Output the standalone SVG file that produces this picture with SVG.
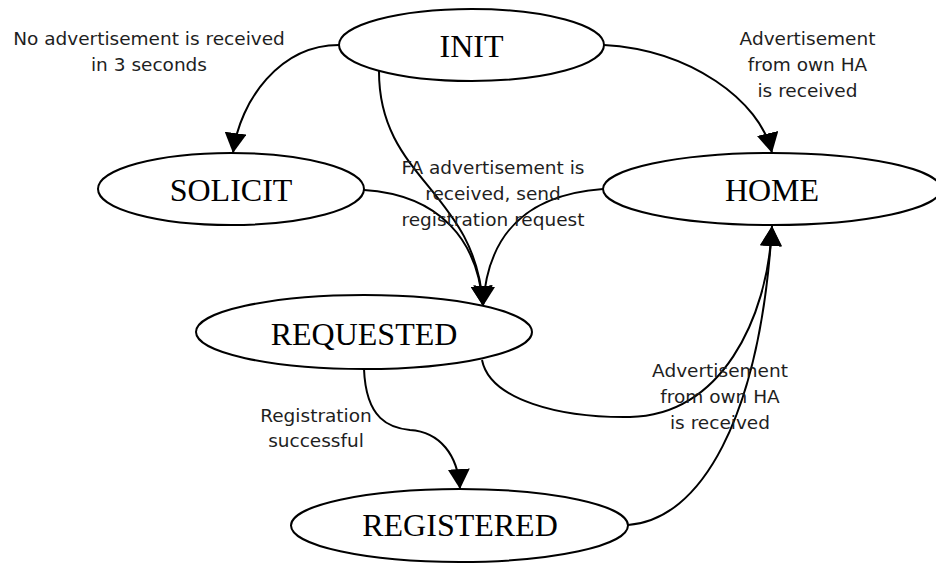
<svg xmlns="http://www.w3.org/2000/svg" width="936" height="563" viewBox="0 0 936 563">
  <style>
    .state { fill: #ffffff; stroke: #000000; stroke-width: 2; }
    .state-label { font-family: "Liberation Serif", "Times New Roman", serif; font-size: 32px; fill: #000000; text-anchor: middle; }
    .edge { fill: none; stroke: #000000; stroke-width: 2; marker-end: url(#arrow); }
    .note { font-family: "DejaVu Sans", Verdana, sans-serif; font-size: 18.5px; fill: #1e1e1e; text-anchor: middle; }
  </style>
  <defs>
    <marker id="arrow" markerUnits="userSpaceOnUse" viewBox="0 0 20 22" refX="20" refY="11" markerWidth="20" markerHeight="22" orient="auto">
      <path d="M0,0 L20,11 L0,22 z" fill="#000000"/>
    </marker>
  </defs>

  <!-- transitions -->
  <g id="connectors">
    <path id="init-solicit" class="edge" d="M339,45 C 280,45 240,100 233,153"/>
    <path id="init-home" class="edge" d="M604,45 C 690,50 760,100 772,153"/>
    <path id="init-requested" class="edge" d="M379,70 C 378,180 476,190 483,306"/>
    <path id="solicit-requested" class="edge" d="M364,190 C 440,195 478,240 483,306"/>
    <path id="home-requested" class="edge" d="M603,189 C 520,195 487,240 483,306"/>
    <path id="requested-home" class="edge" d="M482,360 C 490,400 560,418 630,417 C 720,416 768,320 772,226"/>
    <path id="requested-registered" class="edge" d="M364,369 C 366,420 390,428 410,430 C 440,432 458,455 460,489"/>
    <path id="registered-home" class="edge" d="M628,525 C 700,520 760,420 772,226"/>
  </g>

  <!-- states -->
  <g id="INIT">
    <ellipse class="state" cx="471.5" cy="45" rx="132.5" ry="36"/>
    <text class="state-label" x="471.5" y="56.5">INIT</text>
  </g>
  <g id="SOLICIT">
    <ellipse class="state" cx="231" cy="189" rx="133" ry="36"/>
    <text class="state-label" x="231" y="200.5">SOLICIT</text>
  </g>
  <g id="HOME">
    <ellipse class="state" cx="772" cy="189" rx="169" ry="36"/>
    <text class="state-label" x="772" y="201">HOME</text>
  </g>
  <g id="REQUESTED">
    <ellipse class="state" cx="364" cy="332" rx="168" ry="37"/>
    <text class="state-label" x="364" y="344.5">REQUESTED</text>
  </g>
  <g id="REGISTERED">
    <ellipse class="state" cx="459.5" cy="525.5" rx="168.5" ry="36.5"/>
    <text class="state-label" x="460" y="536">REGISTERED</text>
  </g>

  <!-- transition conditions -->
  <g id="labels">
    <text class="note" x="149" y="45">No advertisement is received</text>
    <text class="note" x="149" y="71">in 3 seconds</text>

    <text class="note" x="807.5" y="45">Advertisement</text>
    <text class="note" x="807.5" y="71">from own HA</text>
    <text class="note" x="807.5" y="97">is received</text>

    <text class="note" x="493" y="174">FA advertisement is</text>
    <text class="note" x="493" y="200">received, send</text>
    <text class="note" x="493" y="226">registration request</text>

    <text class="note" x="720" y="377">Advertisement</text>
    <text class="note" x="720" y="403">from own HA</text>
    <text class="note" x="720" y="429">is received</text>

    <text class="note" x="316" y="422">Registration</text>
    <text class="note" x="316" y="447">successful</text>
  </g>
</svg>
